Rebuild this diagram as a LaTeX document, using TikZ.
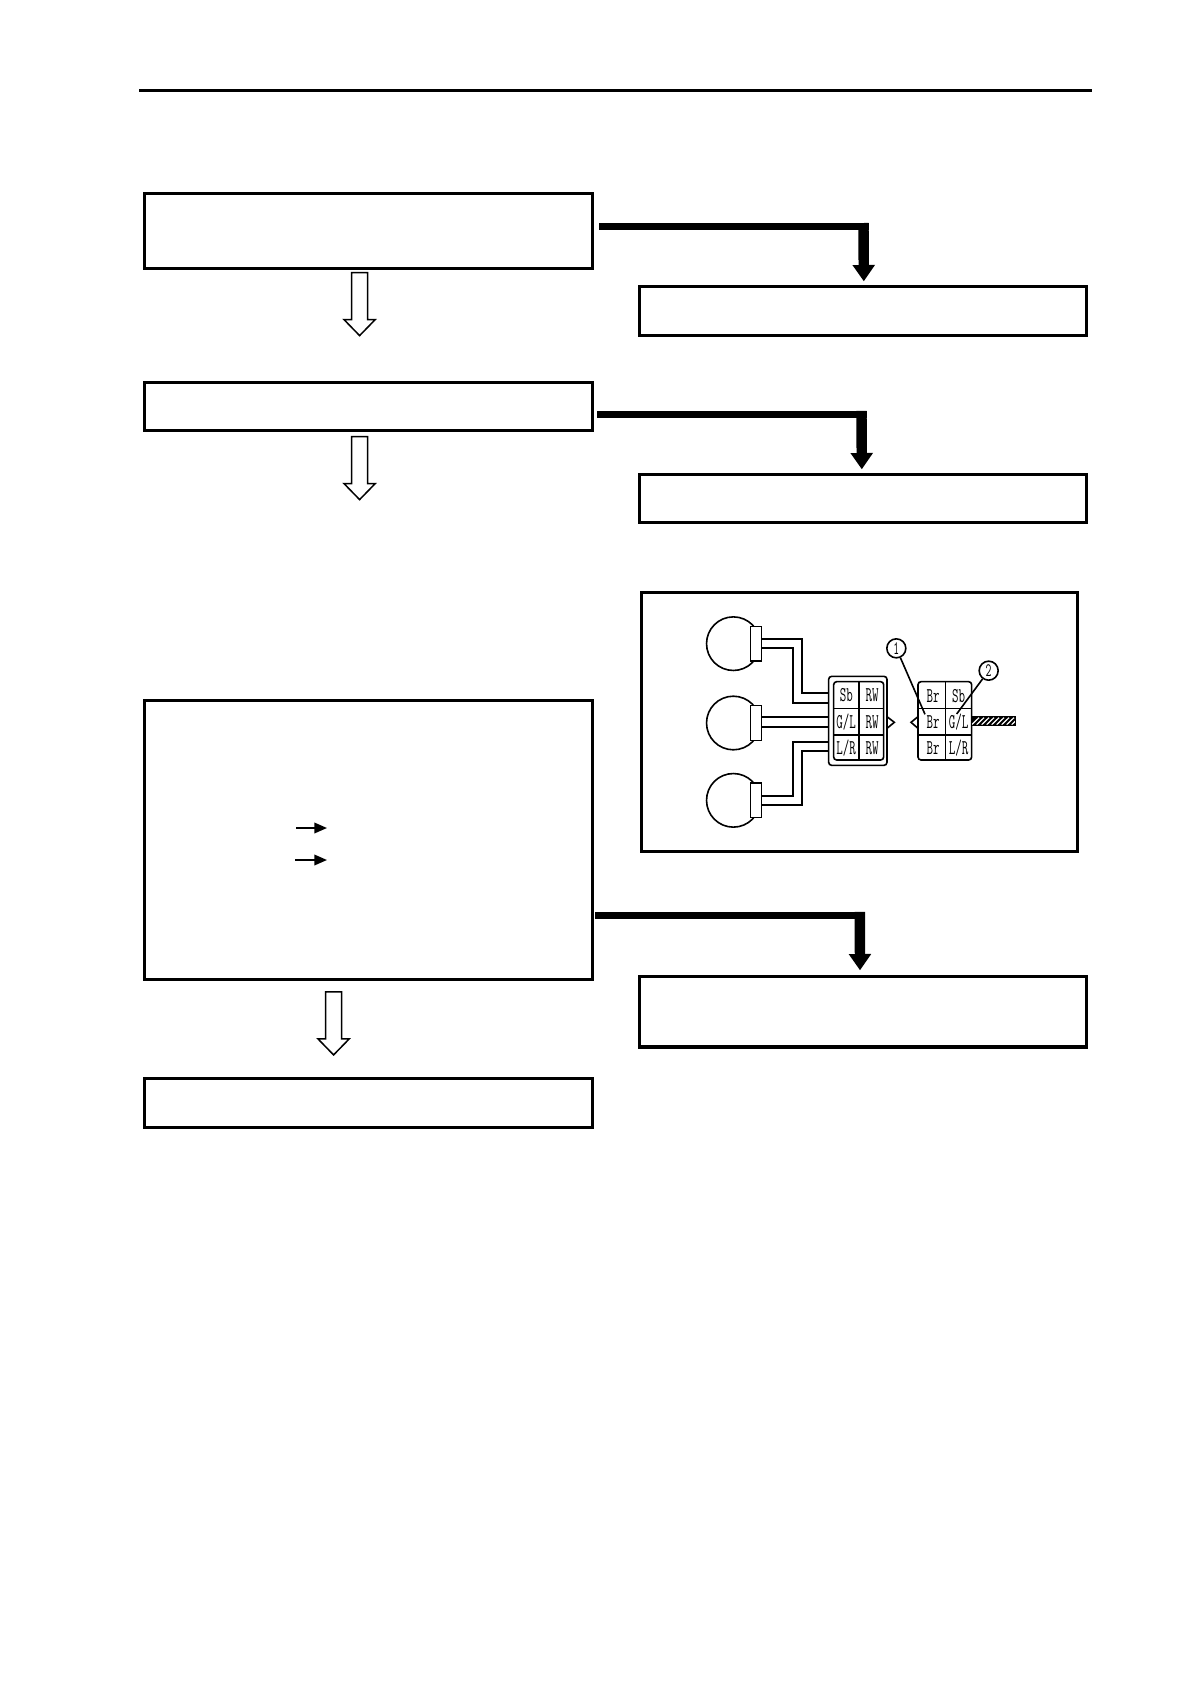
\documentclass[tikz,border=0pt]{standalone}
\usepackage{fontspec}
\usetikzlibrary{arrows.meta}
\newfontfamily\figfont[FakeStretch=0.6]{Latin Modern Mono}
\tikzset{
  stepbox/.style={draw=black,line width=3.2pt,fill=white,inner sep=0pt,rectangle},
  leftbox/.style={stepbox,minimum width=448pt},
  rightbox/.style={stepbox,minimum width=447pt},
  thinwire/.style={line width=1.7pt,black},
  partline/.style={line width=1.6pt,black},
  celltext/.style={font=\figfont\fontsize{21pt}{21pt}\selectfont,inner sep=0pt,text=black},
  callout/.style={circle,draw=black,line width=1.6pt,fill=white,minimum size=19pt,inner sep=0pt,font=\figfont\fontsize{19pt}{19pt}\selectfont},
  branchbar/.style={line width=7.4pt,black,line cap=butt},
  branchdrop/.style={line width=10.4pt,black,line cap=butt,-{Triangle[length=16.3pt,width=21.4pt]}},
  smallarrow/.style={line width=1.8pt,black,-{Triangle[length=12.7pt,width=10.6pt]}},
  hollowdown/.pic={
    \draw[line width=1.5pt,fill=white,line join=miter]
      (-8,0) -- (8,0) -- (8,47) -- (15.6,47) -- (0,63) -- (-15.6,47) -- (-8,47) -- cycle;
  }
}
\begin{document}
\begin{tikzpicture}[x=1pt,y=-1pt]
\useasboundingbox[fill=white] (0,0) rectangle (1190,1684);
% header rule
\coordinate (ruleL) at (139,90.3);
\coordinate (ruleR) at (1092,90.3);
\draw[line width=3.2pt] (ruleL) -- (ruleR);
% left column
\node[leftbox,minimum height=75pt] (b1) at (368.5,231) {};
\node[leftbox,minimum height=48pt] (b2) at (368.5,406.5) {};
\node[leftbox,minimum height=279pt] (b3) at (368.5,840) {};
\node[leftbox,minimum height=49pt] (b4) at (368.5,1103) {};
% right column
\node[rightbox,minimum height=49pt] (r1) at (863,311) {};
\node[rightbox,minimum height=48pt] (r2) at (863,498.5) {};
\node[rightbox,minimum height=70.5pt] (r3) at (863,1011.75) {};
% hollow arrows
\pic at (359.6,272.6) {hollowdown};
\pic at (359.6,436.6) {hollowdown};
\pic at (333.6,991.9) {hollowdown};
% branch arrows
\coordinate (a1s) at (599,226.7);
\coordinate (a1c) at (868.7,226.7);
\coordinate (a1d) at (863.5,223);
\coordinate (a1t) at (863.8,281.3);
\draw[branchbar] (a1s) -- (a1c);
\draw[branchdrop] (a1d) -- (a1t);
\coordinate (a2s) at (597,414.5);
\coordinate (a2c) at (866.7,414.5);
\coordinate (a2d) at (861.5,410.8);
\coordinate (a2t) at (861.8,469.3);
\draw[branchbar] (a2s) -- (a2c);
\draw[branchdrop] (a2d) -- (a2t);
\coordinate (a3s) at (595,915.5);
\coordinate (a3c) at (865,915.5);
\coordinate (a3d) at (859.8,911.8);
\coordinate (a3t) at (860,970.3);
\draw[branchbar] (a3s) -- (a3c);
\draw[branchdrop] (a3d) -- (a3t);
% small arrows in box 3
\coordinate (s1a) at (296,828);
\coordinate (s1b) at (327,828);
\coordinate (s2a) at (295,860);
\coordinate (s2b) at (327,860);
\draw[smallarrow] (s1a) -- (s1b);
\draw[smallarrow] (s2a) -- (s2b);
% figure frame
\node[draw=black,line width=3pt,fill=white,minimum width=436.4pt,minimum height=258.6pt,inner sep=0pt] (fig) at (859.4,722) {};
% figure content, in units of a third of a pixel
\begin{scope}[shift={(630,580)},x=0.33333pt,y=-0.33333pt]
  % wires
  \draw[thinwire] (394,177) -- (517,177) -- (517,340) -- (596,340);
  \draw[thinwire] (394,205) -- (489,205) -- (489,368) -- (596,368);
  \draw[thinwire] (394,411) -- (596,411);
  \draw[thinwire] (394,440) -- (596,440);
  \draw[thinwire] (394,647) -- (489,647) -- (489,485) -- (596,485);
  \draw[thinwire] (394,675) -- (517,675) -- (517,513) -- (596,513);
  % bulbs
  \foreach \cy in {191,429,661}{
    \draw[partline] (310,\cy) circle[radius=26.8pt];
    \draw[partline,fill=white] (362,\cy-52) rectangle (394,\cy+52);
  }
  % left connector
  \draw[partline,fill=white,rounded corners=3pt] (596,289) rectangle (771,556);
  \draw[partline,rounded corners=3pt] (611,305) rectangle (761,540);
  \draw[partline] (687,305) -- (687,540);
  \draw[partline] (611,385) -- (761,385);
  \draw[partline] (611,465) -- (761,465);
  \draw[partline] (771,410) -- (793,427) -- (771,445);
  % right connector
  \draw[partline,fill=white,rounded corners=3pt] (864,305) rectangle (1025,540);
  \draw[partline] (947,305) -- (947,540);
  \draw[partline] (864,385) -- (1025,385);
  \draw[partline] (864,465) -- (1025,465);
  \draw[partline] (864,410) -- (843,427) -- (864,445);
  % cable
  \begin{scope}
    \clip (1025,410) rectangle (1157,437);
    \fill[black] (1025,410) rectangle (1157,437);
    \foreach \hx in {1025,1040,...,1170}{
      \draw[white,line width=1.2pt] (\hx,434) -- (\hx+22,413);
    }
  \end{scope}
  \draw[line width=1.4pt] (1025,410) rectangle (1157,437);
  % cell labels
  \node[celltext] (tl1) at (649,346) {Sb};
  \node[celltext] (tl2) at (726,346) {RW};
  \node[celltext] (tl3) at (648,427) {G/L};
  \node[celltext] (tl4) at (726,426) {RW};
  \node[celltext] (tl5) at (648,505) {L/R};
  \node[celltext] (tl6) at (726,505) {RW};
  \node[celltext] (tr1) at (909,347) {Br};
  \node[celltext] (tr2) at (986,347) {Sb};
  \node[celltext] (tr3) at (909,426) {Br};
  \node[celltext] (tr4) at (986,427) {G/L};
  \node[celltext] (tr5) at (909,503) {Br};
  \node[celltext] (tr6) at (986,505) {L/R};
  % callouts
  \node[callout] (c1) at (799,205) {1};
  \node[callout] (c2) at (1076,272) {2};
  \coordinate (c1t) at (885,403);
  \coordinate (c2t) at (980,402);
  \draw[partline] (c1) -- (c1t);
  \draw[partline] (c2) -- (c2t);
\end{scope}
\end{tikzpicture}
\end{document}
